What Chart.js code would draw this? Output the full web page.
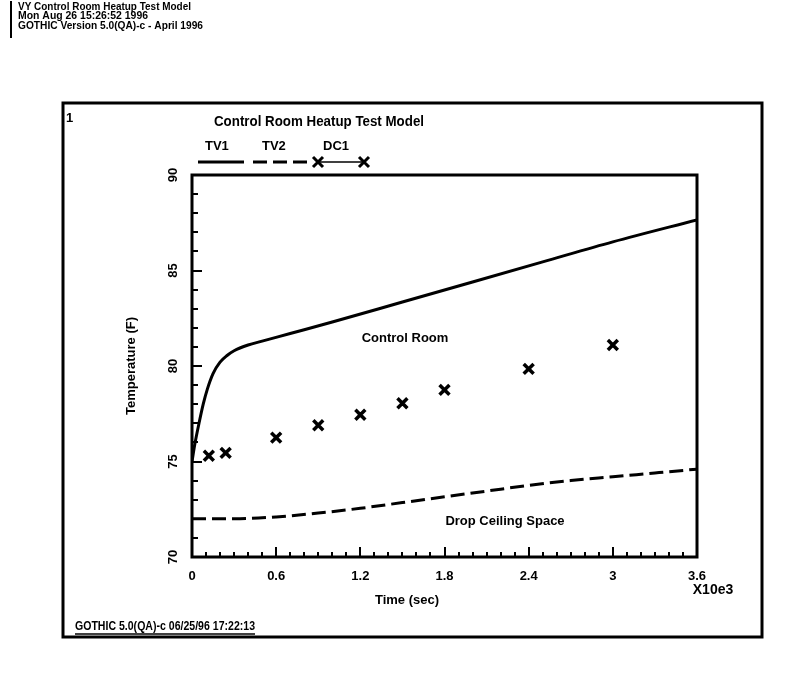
<!DOCTYPE html>
<html>
<head>
<meta charset="utf-8">
<script src="https://cdn.jsdelivr.net/npm/chart.js@4/dist/chart.umd.min.js"></script>
<style>
  html, body { margin: 0; padding: 0; background: #fff; }
  canvas { display: block; }
</style>
</head>
<body>
<canvas id="c" width="805" height="699"></canvas>
<script>
// ---- data (time in units of 10^3 s, temperature in F) ----
const tv1Time = [0, 0.02, 0.05, 0.08, 0.11, 0.15, 0.2, 0.25, 0.3, 0.4, 0.5, 0.7, 1.0, 1.5, 2.0, 2.5, 3.0, 3.6];
const tv1Temp = [75.0, 75.9, 77.0, 78.0, 78.8, 79.6, 80.2, 80.55, 80.8, 81.1, 81.3, 81.7, 82.3, 83.35, 84.4, 85.45, 86.5, 87.65];

const tv2Time = [0, 0.3, 0.6, 0.9, 1.2, 1.5, 1.8, 2.1, 2.4, 2.7, 3.0, 3.3, 3.6];
const tv2Temp = [72.0, 72.0, 72.1, 72.3, 72.55, 72.85, 73.15, 73.45, 73.75, 74.0, 74.2, 74.4, 74.6];

const dc1Time = [0.12, 0.24, 0.6, 0.9, 1.2, 1.5, 1.8, 2.4, 3.0];
const dc1Temp = [75.3, 75.45, 76.25, 76.9, 77.45, 78.05, 78.75, 79.85, 81.1];

const seriesNames = ['TV1', 'TV2', 'DC1'];
const xTickLabels = ['0', '0.6', '1.2', '1.8', '2.4', '3', '3.6'];
const yTickLabels = ['70', '75', '80', '85', '90'];

const headerLines = ['VY Control Room Heatup Test Model', 'Mon Aug 26 15:26:52 1996', 'GOTHIC Version 5.0(QA)-c - April 1996'];
const chartTitle = 'Control Room Heatup Test Model';
const xTitle = 'Time (sec)';
const xMultiplier = 'X10e3';
const yTitle = 'Temperature (F)';
const footer = 'GOTHIC 5.0(QA)-c 06/25/96 17:22:13';
const curveNotes = ['Control Room', 'Drop Ceiling Space'];

const pts = (xs, ys) => xs.map((x, i) => ({ x: x, y: ys[i] }));
const FONT = '"Liberation Sans", Arial, sans-serif';

// draw text squeezed to a given width (condensed look of the original)
function fitText(ctx, text, x, y, width) {
  const w = ctx.measureText(text).width;
  const s = Math.min(1, width / w);
  ctx.save();
  ctx.translate(x, y);
  ctx.scale(s, 1);
  ctx.fillText(text, 0, 0);
  ctx.restore();
  return w * s;
}

const decor = {
  id: 'decor',
  beforeDraw(chart) {
    const ctx = chart.ctx;
    ctx.save();
    ctx.fillStyle = '#fff';
    ctx.fillRect(0, 0, chart.width, chart.height);
    ctx.restore();
  },
  afterDraw(chart) {
    const ctx = chart.ctx;
    const xs = chart.scales.x, ys = chart.scales.y;
    const a = chart.chartArea;
    ctx.save();
    ctx.fillStyle = '#000';
    ctx.strokeStyle = '#000';

    // header
    ctx.font = 'bold 11px ' + FONT;
    ctx.textAlign = 'left';
    ctx.textBaseline = 'middle';
    fitText(ctx, headerLines[0], 18, 7, 173);
    fitText(ctx, headerLines[1], 18, 16, 130);
    fitText(ctx, headerLines[2], 18, 26, 185);
    ctx.lineWidth = 2;
    ctx.beginPath();
    ctx.moveTo(11, 38); ctx.lineTo(11, 1);
    ctx.stroke();

    // outer frame
    ctx.lineWidth = 3;
    ctx.strokeRect(63, 103, 699, 534);

    ctx.font = 'bold 13px ' + FONT;
    ctx.fillText('1', 66, 118);

    // title
    ctx.font = 'bold 14px ' + FONT;
    fitText(ctx, chartTitle, 214, 122, 210);

    // legend
    ctx.font = 'bold 13px ' + FONT;
    ctx.fillText(seriesNames[0], 205, 146);
    ctx.fillText(seriesNames[1], 262, 146);
    ctx.fillText(seriesNames[2], 323, 146);
    ctx.lineWidth = 3;
    ctx.beginPath(); ctx.moveTo(198, 162); ctx.lineTo(244, 162); ctx.stroke();
    ctx.setLineDash([14, 6]);
    ctx.beginPath(); ctx.moveTo(253, 162); ctx.lineTo(312, 162); ctx.stroke();
    ctx.setLineDash([]);
    ctx.lineWidth = 1.5;
    ctx.beginPath(); ctx.moveTo(318, 162); ctx.lineTo(364, 162); ctx.stroke();
    ctx.lineWidth = 3;
    [318, 364].forEach(cx => {
      ctx.beginPath();
      ctx.moveTo(cx - 5, 157); ctx.lineTo(cx + 5, 167);
      ctx.moveTo(cx + 5, 157); ctx.lineTo(cx - 5, 167);
      ctx.stroke();
    });

    // inward ticks
    ctx.lineWidth = 2;
    ctx.beginPath();
    for (let v = 70; v <= 90; v++) {
      const py = Math.round(ys.getPixelForValue(v));
      const len = v % 5 === 0 ? 10 : 6;
      ctx.moveTo(a.left, py); ctx.lineTo(a.left + len, py);
    }
    for (let k = 0; k <= 36; k++) {
      const px = Math.round(xs.getPixelForValue(k / 10));
      const len = k % 6 === 0 ? 10 : 5;
      ctx.moveTo(px, a.bottom); ctx.lineTo(px, a.bottom - len);
    }
    ctx.stroke();

    // plot box
    ctx.lineWidth = 3;
    ctx.strokeRect(a.left, a.top, a.right - a.left, a.bottom - a.top);

    // y tick labels (rotated)
    ctx.font = 'bold 13px ' + FONT;
    ctx.textAlign = 'center';
    ctx.textBaseline = 'middle';
    yTickLabels.forEach(t => {
      const py = ys.getPixelForValue(Number(t));
      ctx.save();
      ctx.translate(173, py);
      ctx.rotate(-Math.PI / 2);
      ctx.fillText(t, 0, 0);
      ctx.restore();
    });
    // y title
    ctx.save();
    ctx.translate(131, 366);
    ctx.rotate(-Math.PI / 2);
    ctx.fillText(yTitle, 0, 0);
    ctx.restore();

    // x title and multiplier
    ctx.fillText(xTitle, 407, 600);
    ctx.font = 'bold 14px ' + FONT;
    ctx.fillText(xMultiplier, 713, 590);

    // curve notes
    ctx.font = 'bold 13px ' + FONT;
    ctx.fillText(curveNotes[0], 405, 338);
    ctx.fillText(curveNotes[1], 505, 521);

    // footer
    ctx.textAlign = 'left';
    ctx.font = 'bold 12px ' + FONT;
    const fw = fitText(ctx, footer, 75, 627, 180);
    ctx.lineWidth = 1.5;
    ctx.beginPath(); ctx.moveTo(75, 634); ctx.lineTo(75 + fw, 634); ctx.stroke();

    ctx.restore();
  }
};

new Chart(document.getElementById('c'), {
  type: 'line',
  data: {
    datasets: [
      {
        label: seriesNames[0],
        data: pts(tv1Time, tv1Temp),
        borderColor: '#000',
        borderWidth: 3,
        pointRadius: 0,
        fill: false,
        cubicInterpolationMode: 'monotone'
      },
      {
        label: seriesNames[1],
        data: pts(tv2Time, tv2Temp),
        borderColor: '#000',
        borderWidth: 3,
        borderDash: [14, 6],
        pointRadius: 0,
        fill: false,
        cubicInterpolationMode: 'monotone'
      },
      {
        label: seriesNames[2],
        data: pts(dc1Time, dc1Temp),
        showLine: false,
        pointStyle: 'crossRot',
        pointRadius: 7,
        pointBorderWidth: 3.5,
        pointBorderColor: '#000',
        pointBackgroundColor: '#000'
      }
    ]
  },
  options: {
    responsive: false,
    animation: false,
    devicePixelRatio: 1,
    layout: { padding: { left: 192, right: 108, top: 175, bottom: 112 } },
    plugins: { legend: { display: false }, tooltip: { enabled: false }, title: { display: false } },
    scales: {
      x: {
        type: 'linear',
        min: 0, max: 3.6,
        grid: { display: false },
        border: { display: false },
        afterFit: s => { s.height = 30; },
        afterBuildTicks: s => { s.ticks = xTickLabels.map(t => ({ value: Number(t) })); },
        ticks: {
          autoSkip: false, maxRotation: 0, minRotation: 0,
          color: '#000', padding: 4,
          font: { family: FONT, size: 13, weight: 'bold' },
          callback: (v) => xTickLabels.find(t => Math.abs(Number(t) - v) < 1e-6) || ''
        }
      },
      y: {
        type: 'linear',
        min: 70, max: 90,
        grid: { display: false },
        border: { display: false },
        ticks: { display: false },
        afterFit: s => { s.width = 0; }
      }
    }
  },
  plugins: [decor]
});
</script>
</body>
</html>
